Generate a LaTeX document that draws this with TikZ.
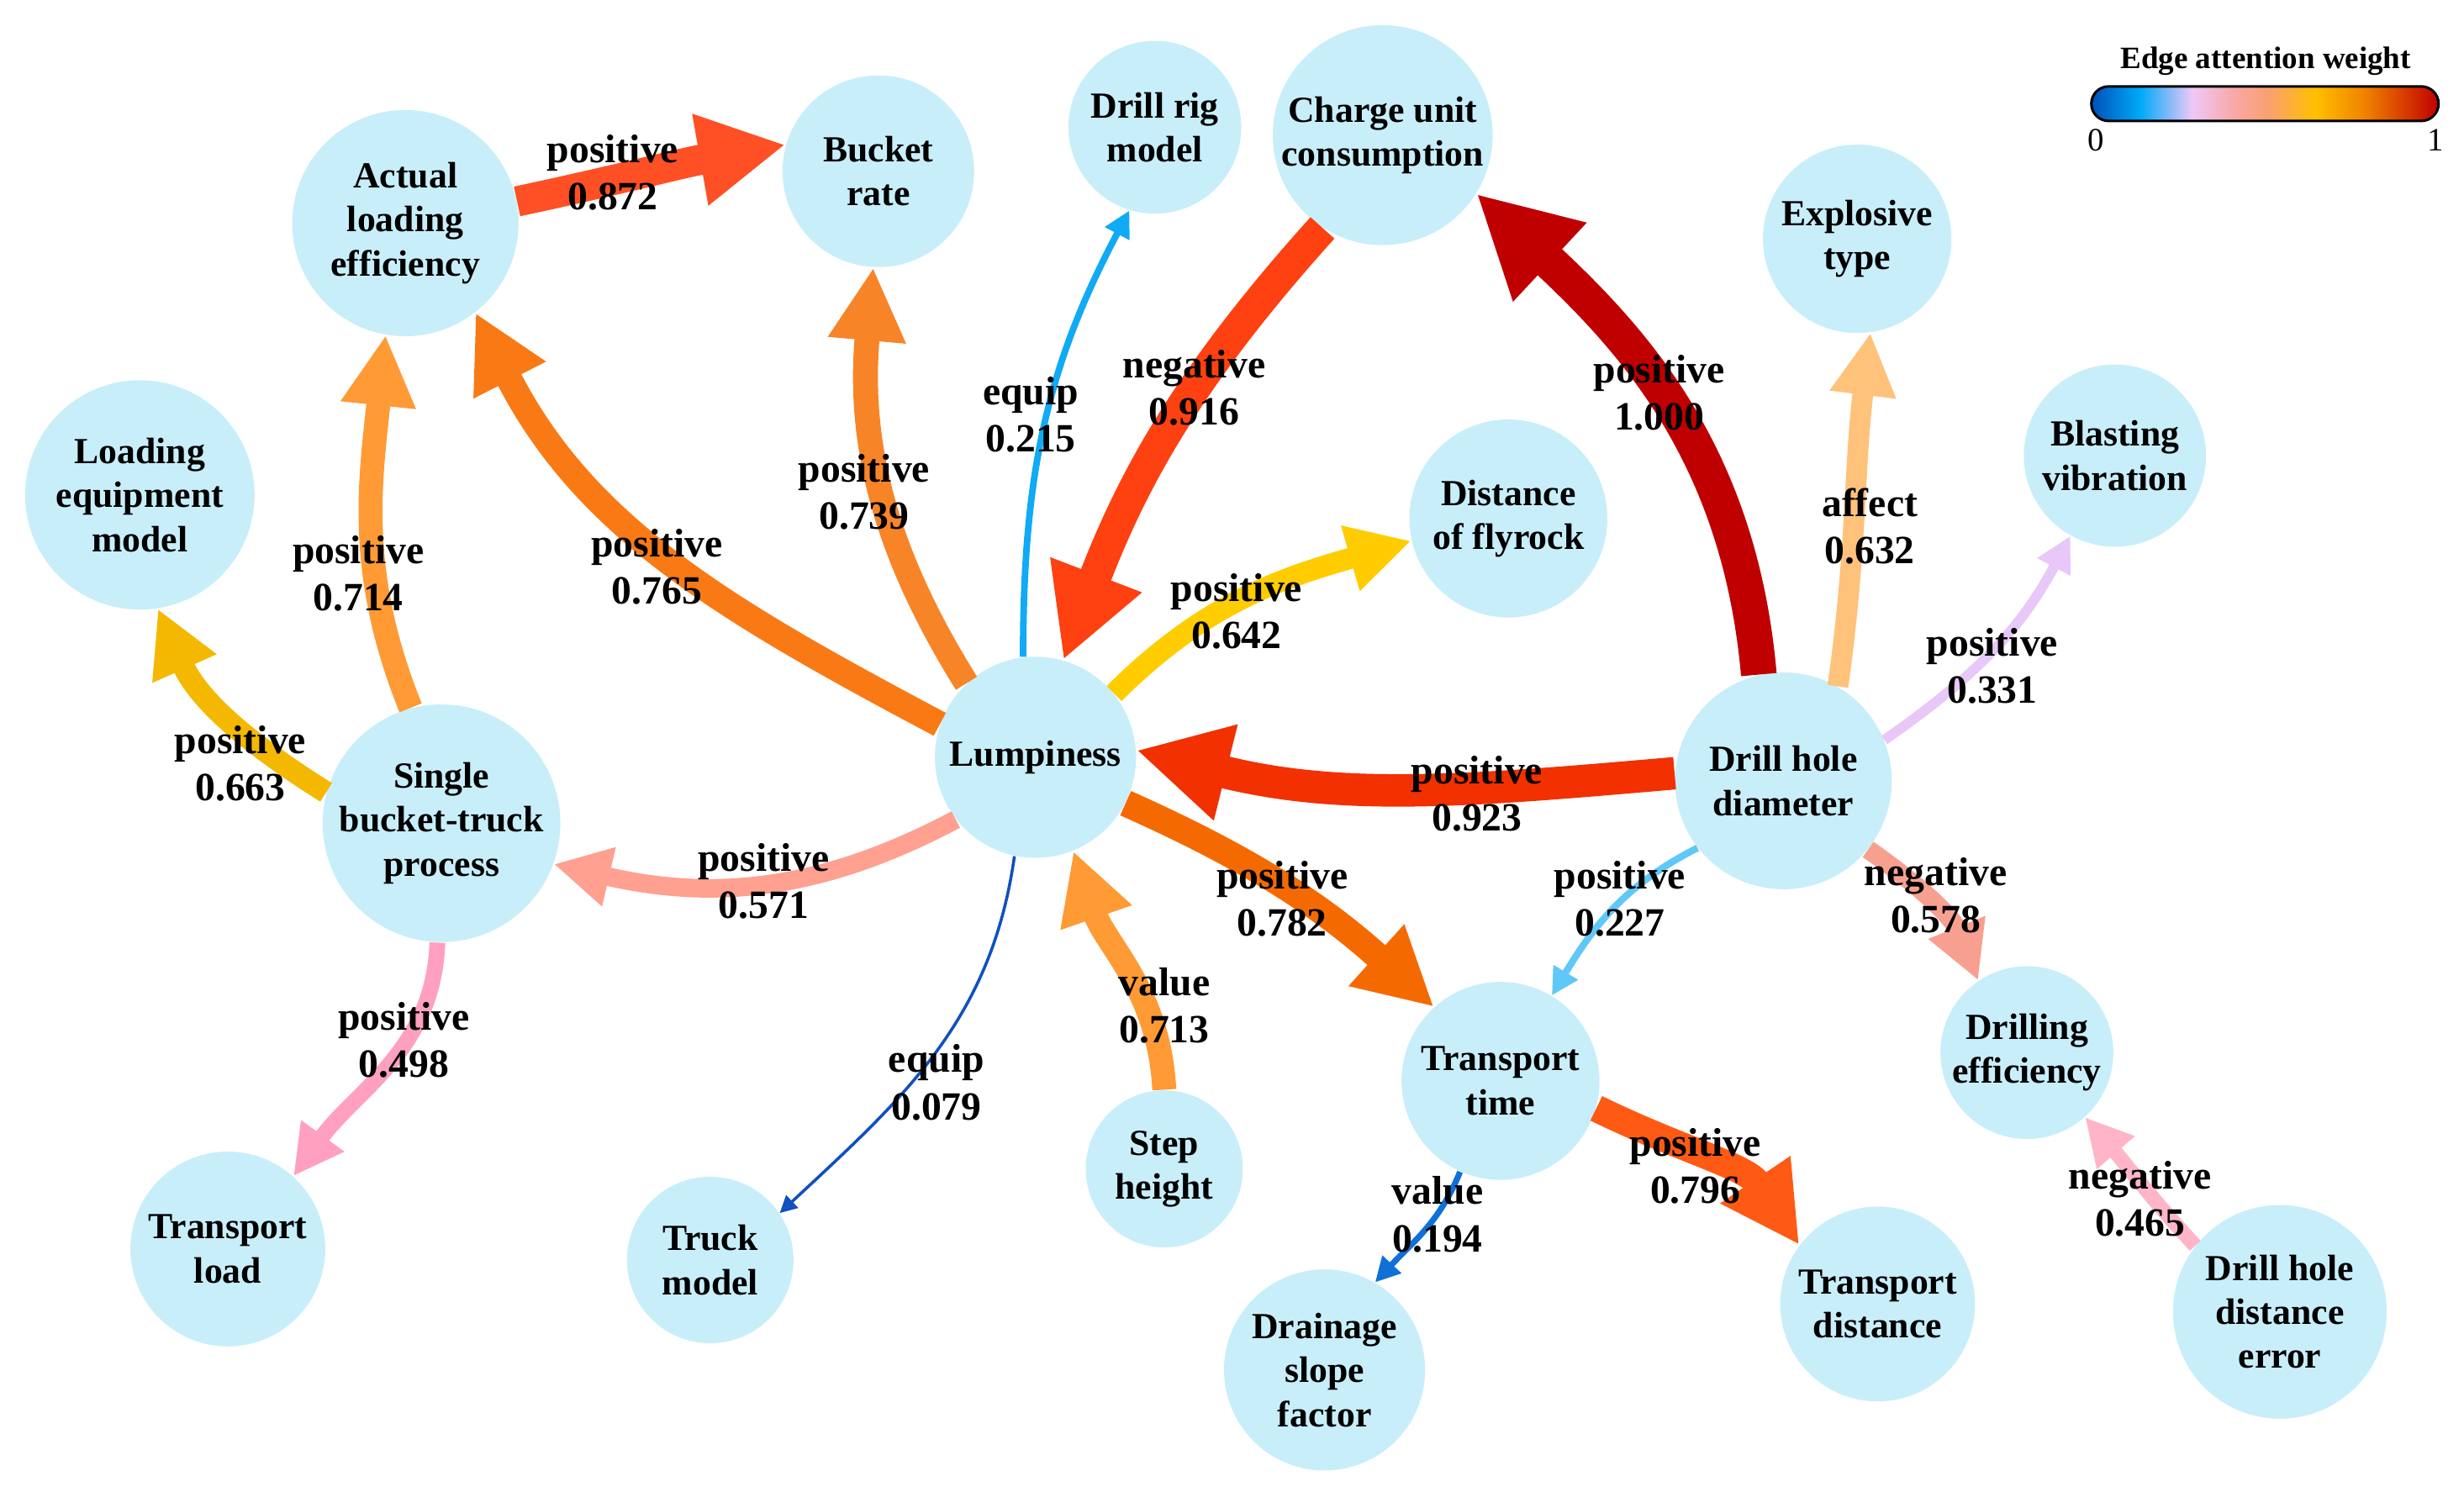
\documentclass[tikz,border=0pt]{standalone}
\usepackage{fontspec}
\setmainfont{Liberation Serif}
\usetikzlibrary{arrows.meta}

\definecolor{nodefill}{HTML}{C8EEFA}
\definecolor{w1000}{HTML}{C00000}
\definecolor{w923}{HTML}{F23000}
\definecolor{w916}{HTML}{FF4010}
\definecolor{w872}{HTML}{FF5025}
\definecolor{w796}{HTML}{FF5A14}
\definecolor{w782}{HTML}{F56A00}
\definecolor{w765}{HTML}{F97A15}
\definecolor{w739}{HTML}{F88428}
\definecolor{w714}{HTML}{FF9A35}
\definecolor{w663}{HTML}{F5B800}
\definecolor{w642}{HTML}{FFCC00}
\definecolor{w632}{HTML}{FFC27A}
\definecolor{w578}{HTML}{F8A090}
\definecolor{w571}{HTML}{FFA090}
\definecolor{w498}{HTML}{FFA0C0}
\definecolor{w465}{HTML}{FFB4C8}
\definecolor{w331}{HTML}{E8C8F8}
\definecolor{w227}{HTML}{60C8F8}
\definecolor{w215}{HTML}{10AAF5}
\definecolor{w194}{HTML}{1070D8}
\definecolor{w079}{HTML}{1050C0}

% colour bar stops
\definecolor{cbA}{HTML}{0050B8}
\definecolor{cbB}{HTML}{00A8F8}
\definecolor{cbC}{HTML}{EEC8F8}
\definecolor{cbD}{HTML}{F8A8A8}
\definecolor{cbE}{HTML}{FBA070}
\definecolor{cbF}{HTML}{FFC000}
\definecolor{cbG}{HTML}{F08000}
\definecolor{cbH}{HTML}{C00000}
\pgfdeclarehorizontalshading{attn}{100bp}{color(0bp)=(cbA); color(25bp)=(cbA);
  color(32bp)=(cbB); color(39.5bp)=(cbC); color(45.5bp)=(cbD); color(50.5bp)=(cbE);
  color(57.25bp)=(cbF); color(64.5bp)=(cbG); color(75bp)=(cbH); color(100bp)=(cbH)}

\newcommand\nodefont{\fontsize{11.7}{14}\selectfont\bfseries}
\newcommand\lblfont{\fontsize{12.75}{15}\selectfont\bfseries}

\tikzset{
  var/.style={circle, fill=nodefill, inner sep=0pt, minimum size=#1, align=center, font=\nodefont},
  lbl/.style={align=center, font=\lblfont},
  edge/.style={-{Triangle[length=3pt 2.55, width=3pt 2.55]}}
}

\begin{document}
\begin{tikzpicture}[x=0.5pt, y=0.5pt]
\useasboundingbox (0,0) rectangle (1568.2,-949.2);

% variables
\node[var=72pt] (ale) at (258,-142) {Actual\\loading\\efficiency};
\node[var=61pt] (bucket) at (559,-109) {Bucket\\rate};
\node[var=55pt] (rig) at (735,-81) {Drill rig\\model};
\node[var=70pt] (charge) at (880,-86) {Charge unit\\consumption};
\node[var=60pt] (explosive) at (1182,-152) {Explosive\\type};
\node[var=58pt] (vibration) at (1346,-290) {Blasting\\vibration};
\node[var=73pt] (loadeq) at (89,-315) {Loading\\equipment\\model};
\node[var=63pt] (flyrock) at (960,-330) {Distance\\of flyrock};
\node[var=64pt] (lump) at (659,-482) {Lumpiness};
\node[var=69pt] (diam) at (1135,-497) {Drill hole\\diameter};
\node[var=72pt] (single) at (281,-524) {Single\\bucket-truck\\process};
\node[var=63pt] (ttime) at (955,-688) {Transport\\time};
\node[var=55pt] (drilleff) at (1290,-670) {Drilling\\efficiency};
\node[var=50pt] (step) at (741,-744) {Step\\height};
\node[var=53pt] (truck) at (452,-802) {Truck\\model};
\node[var=62pt] (tload) at (145,-795) {Transport\\load};
\node[var=64pt] (drainage) at (843,-872) {Drainage\\slope\\factor};
\node[var=62pt] (tdist) at (1195,-830) {Transport\\distance};
\node[var=68pt] (holeerr) at (1451,-835) {Drill hole\\distance\\error};

% weighted edges
\draw[edge, w872, line width=9.64pt] (ale.11) to[out=12, in=190] (bucket.164);
\draw[edge, w739, line width=7.93pt] (lump.133) to[out=122, in=265] (bucket.267);
\draw[edge, w765, line width=8.26pt] (lump.161) to[out=152, in=297] (ale.308);
\draw[edge, w714, line width=7.62pt] (single.105) to[out=112, in=264] (ale.260);
\draw[edge, w663, line width=6.99pt] (single.165) to[out=148, in=294] (loadeq.279);
\draw[edge, w571, line width=5.89pt] (lump.218) to[out=208, in=347] (single.340);
\draw[edge, w498, line width=5.04pt] (single.268) to[out=268, in=54] (tload.48);
\draw[edge, w079, line width=0.95pt] (lump.258) to[out=262, in=43] (truck.34);
\draw[edge, w215, line width=2.09pt] (lump.97) to[out=90, in=242] (rig.253);
\draw[edge, w916, line width=10.22pt] (charge.237) to[out=228, in=69] (lump.74);
\draw[edge, w642, line width=6.74pt] (lump.39) to[out=45, in=196] (flyrock.193);
\draw[edge, w1000, line width=11.35pt] (diam.103) to[out=95, in=317] (charge.328);
\draw[edge, w632, line width=6.61pt] (diam.60) to[out=82, in=263] (explosive.278);
\draw[edge, w331, line width=3.22pt] (diam.22) to[out=35, in=242] (vibration.241);
\draw[edge, w923, line width=10.32pt] (diam.176) to[out=185, in=346] (lump.4);
\draw[edge, w782, line width=8.48pt] (lump.333) to[out=336, in=138] (ttime.132);
\draw[edge, w714, line width=7.61pt] (step.90) to[out=93, in=289] (lump.292);
\draw[edge, w227, line width=2.2pt] (diam.218) to[out=207, in=59] (ttime.59);
\draw[edge, w578, line width=5.97pt] (diam.321) to[out=325, in=112] (drilleff.124);
\draw[edge, w194, line width=1.9pt] (ttime.246) to[out=248, in=47] (drainage.60);
\draw[edge, w796, line width=8.66pt] (ttime.344) to[out=334, in=124] (tdist.143);
\draw[edge, w465, line width=4.67pt] (holeerr.142) to[out=133, in=311] (drilleff.312);

% edge labels
\node[lbl] (l1) at (390,-110) {positive\\0.872};
\node[lbl] (l2) at (550,-313) {positive\\0.739};
\node[lbl] (l3) at (418,-361) {positive\\0.765};
\node[lbl] (l4) at (228,-365) {positive\\0.714};
\node[lbl] (l5) at (153,-486) {positive\\0.663};
\node[lbl] (l6) at (486,-561) {positive\\0.571};
\node[lbl] (l7) at (257,-662) {positive\\0.498};
\node[lbl] (l8) at (596,-689) {equip\\0.079};
\node[lbl] (l9) at (656,-264) {equip\\0.215};
\node[lbl] (l10) at (760,-247) {negative\\0.916};
\node[lbl] (l11) at (787,-389) {positive\\0.642};
\node[lbl] (l12) at (1056,-250) {positive\\1.000};
\node[lbl] (l13) at (1190,-335) {affect\\0.632};
\node[lbl] (l14) at (1268,-424) {positive\\0.331};
\node[lbl] (l15) at (940,-505) {positive\\0.923};
\node[lbl] (l16) at (816,-572) {positive\\0.782};
\node[lbl] (l17) at (741,-640) {value\\0.713};
\node[lbl] (l18) at (1031,-572) {positive\\0.227};
\node[lbl] (l19) at (1232,-570) {negative\\0.578};
\node[lbl] (l20) at (915,-773) {value\\0.194};
\node[lbl] (l21) at (1079,-742) {positive\\0.796};
\node[lbl] (l22) at (1362,-763) {negative\\0.465};

% colour bar
\node[font=\fontsize{9.9}{12}\selectfont\bfseries] (cbtitle) at (1442,-39) {Edge attention weight};
\shade[shading=attn, rounded corners=5.5pt] (1331,-55) rectangle (1552,-77);
\draw[line width=0.8pt, rounded corners=5.5pt] (1331,-55) rectangle (1552,-77);
\node[font=\fontsize{10.4}{12}\selectfont] (cbmin) at (1334,-89) {0};
\node[font=\fontsize{10.4}{12}\selectfont] (cbmax) at (1550,-89) {1};
\end{tikzpicture}
\end{document}
